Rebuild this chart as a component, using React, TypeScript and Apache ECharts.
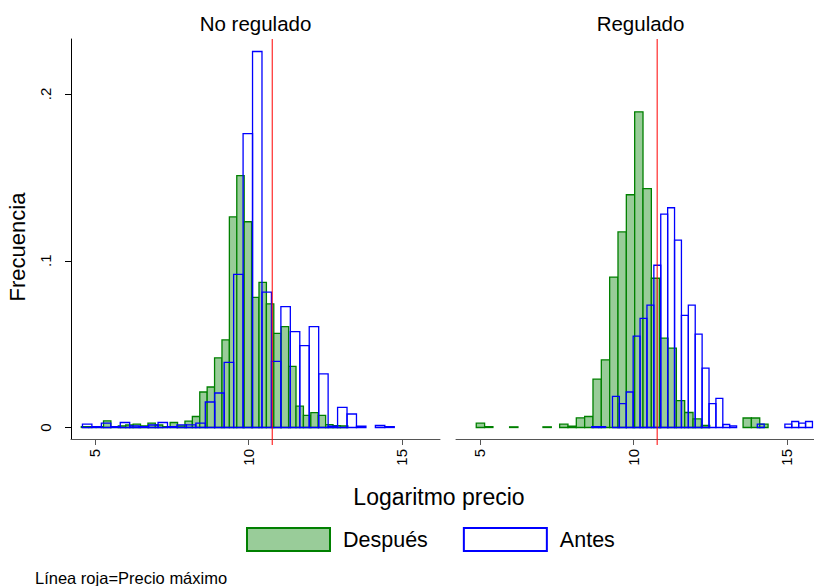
import React, { useEffect, useRef } from "react";
import * as echarts from "echarts";

// ---------- data ----------
const panelTitles = ["No regulado", "Regulado"];
const seriesNames = ["Después", "Antes"];
const xAxisTitle = "Logaritmo precio";
const yAxisTitle = "Frecuencia";
const footNote = "Línea roja=Precio máximo";
const xTicks = [5, 10, 15];
const yTicks = [0, 0.1, 0.2];
const yTickLabels = ["0", ".1", ".2"];
const precioMaximoLog = 10.775;

// No regulado – Después (bin start, bin width, heights)
const despuesNoRegStart = 4.555;
const despuesNoRegWidth = 0.2412;
const despuesNoRegulado = [
  0.0005, 0.0005, 0.0005, 0.004, 0.0005, 0.001, 0.0015, 0.002, 0.001, 0.0026,
  0.0015, 0.0005, 0.003, 0.001, 0.0038, 0.0066, 0.0213, 0.0243, 0.0418, 0.0525,
  0.1263, 0.151, 0.1234, 0.078, 0.087, 0.0742, 0.0565, 0.0605, 0.0366, 0.0128,
  0.0073, 0.0089, 0.0073, 0.0017, 0.0011, 0.001,
];

// No regulado – Antes
const antesNoRegStart = 4.593;
const antesNoRegWidth = 0.3078;
const antesNoRegulado = [
  0.002, 0.0005, 0.0026, 0.0005, 0.003, 0.001, 0.0005, 0.0015, 0.003, 0.0005,
  0.0016, 0.0016, 0.0026, 0.0153, 0.0207, 0.039, 0.0918, 0.1763, 0.2255, 0.0812,
  0.0396, 0.0725, 0.0575, 0.0491, 0.0605, 0.0322, 0.0008, 0.0121, 0.0081, 0.0008,
  0, 0.0012, 0.0005,
];

// Regulado – Después
const despuesRegStart = 4.88;
const despuesRegWidth = 0.2717;
const despuesRegulado = [
  0.0026, 0.0005, 0, 0, 0.0004, 0, 0, 0, 0.0004, 0, 0.002, 0.0008, 0.0058,
  0.0066, 0.029, 0.0406, 0.0902, 0.1173, 0.1396, 0.1893, 0.1433, 0.0895, 0.0536,
  0.0476, 0.0161, 0.009, 0.0052, 0.0012, 0, 0, 0, 0, 0.0057, 0.0057, 0.002,
];

// Regulado – Antes
const antesRegStart = 8.645;
const antesRegWidth = 0.2247;
const antesRegulado = [
  0.0005, 0.0005, 0, 0.0187, 0.0143, 0.0213, 0.0548, 0.0655, 0.0734, 0.0973,
  0.128, 0.1318, 0.1124, 0.0673, 0.0734, 0.056, 0.0356, 0.0143, 0.0175, 0.0018,
  0.001, 0, 0, 0, 0.002, 0, 0, 0, 0.002, 0.0036, 0.0026, 0.0036,
];

// ---------- styling ----------
const FONT = "'Liberation Sans', Arial, sans-serif";
const GREEN_FILL = "#99cc99";
const GREEN_STROKE = "#008000";
const BLUE_STROKE = "#0000ff";
const X_MIN = 4.22;
const X_MAX_LEFT = 16.24;
const X_MAX_RIGHT = 15.886;
const Y_MIN = -0.0069;
const Y_MAX = 0.233;

function toBins(start: number, width: number, heights: number[]) {
  return heights
    .map((h, i) => [start + i * width, start + (i + 1) * width, h])
    .filter((d) => d[2] > 0);
}

const makeRender = (fill: string, stroke: string) => (params: any, api: any) => {
  const x0 = api.value(0);
  const x1 = api.value(1);
  const h = api.value(2);
  const p0 = api.coord([x0, h]);
  const p1 = api.coord([x1, 0]);
  return {
    type: "rect",
    shape: { x: p0[0], y: p0[1], width: p1[0] - p0[0], height: p1[1] - p0[1] },
    style: { fill, stroke, lineWidth: 1.3 },
  };
};

const renderRefLine = (params: any, api: any) => {
  const x = api.value(0);
  const top = api.coord([x, Y_MAX]);
  const bottom = api.coord([x, Y_MIN]);
  return {
    type: "line",
    shape: { x1: top[0], y1: top[1], x2: bottom[0], y2: bottom[1] + 6 },
    style: { stroke: "#ff0000", lineWidth: 1 },
  };
};

export default function App() {
  const ref = useRef<HTMLDivElement>(null);

  useEffect(() => {
    if (!ref.current) return;
    const chart = echarts.init(ref.current, null, { renderer: "svg" });

    const grids = [
      { left: 71, top: 39, width: 369, height: 400 },
      { left: 456, top: 39, width: 358, height: 400 },
    ];
    const xMax = [X_MAX_LEFT, X_MAX_RIGHT];

    const xAxes = grids.map((_, i) => ({
      type: "value",
      gridIndex: i,
      min: X_MIN,
      max: xMax[i],
      axisLine: { show: true, onZero: false, lineStyle: { color: "#555", width: 1 } },
      axisTick: { show: true, length: 6, customValues: xTicks, lineStyle: { color: "#555" } },
      axisLabel: {
        customValues: xTicks,
        rotate: 90,
        margin: 10,
        fontSize: 15,
        color: "#000",
        fontFamily: FONT,
      },
      splitLine: { show: false },
    }));

    const yAxes = [
      {
        type: "value",
        gridIndex: 0,
        min: Y_MIN,
        max: Y_MAX,
        axisLine: { show: true, lineStyle: { color: "#000", width: 1 } },
        axisTick: { show: true, length: 6, customValues: yTicks, lineStyle: { color: "#000" } },
        axisLabel: {
          customValues: yTicks,
          rotate: 90,
          margin: 18,
          fontSize: 15,
          color: "#000",
          fontFamily: FONT,
          formatter: (v: number) => {
            const idx = yTicks.findIndex((t) => Math.abs(t - v) < 1e-9);
            return idx >= 0 ? yTickLabels[idx] : "";
          },
        },
        splitLine: { show: false },
      },
      {
        type: "value",
        gridIndex: 1,
        min: Y_MIN,
        max: Y_MAX,
        show: false,
        splitLine: { show: false },
      },
    ];

    const panels = [
      {
        despues: toBins(despuesNoRegStart, despuesNoRegWidth, despuesNoRegulado),
        antes: toBins(antesNoRegStart, antesNoRegWidth, antesNoRegulado),
      },
      {
        despues: toBins(despuesRegStart, despuesRegWidth, despuesRegulado),
        antes: toBins(antesRegStart, antesRegWidth, antesRegulado),
      },
    ];

    const series: any[] = [];
    panels.forEach((p, i) => {
      series.push({
        type: "custom",
        name: seriesNames[0],
        xAxisIndex: i,
        yAxisIndex: i,
        data: p.despues,
        encode: { x: [0, 1], y: 2 },
        itemStyle: { color: GREEN_FILL, borderColor: GREEN_STROKE, borderWidth: 2 },
        renderItem: makeRender(GREEN_FILL, GREEN_STROKE),
        z: 2,
      });
      series.push({
        type: "custom",
        name: seriesNames[1],
        xAxisIndex: i,
        yAxisIndex: i,
        data: p.antes,
        encode: { x: [0, 1], y: 2 },
        itemStyle: { color: "#ffffff", borderColor: BLUE_STROKE, borderWidth: 2 },
        renderItem: makeRender("none", BLUE_STROKE),
        z: 3,
      });
      series.push({
        type: "custom",
        name: "precio-max-" + i,
        xAxisIndex: i,
        yAxisIndex: i,
        dimensions: ["x"],
        data: [[precioMaximoLog]],
        encode: { x: 0 },
        renderItem: renderRefLine,
        silent: true,
        z: 4,
      });
    });

    const textStyle = (size: number) => ({ fontSize: size, fontFamily: FONT, fill: "#000" });

    chart.setOption({
      animation: false,
      backgroundColor: "#ffffff",
      grid: grids,
      xAxis: xAxes,
      yAxis: yAxes,
      series,
      legend: {
        left: 246,
        top: 527,
        padding: 0,
        itemWidth: 83,
        itemHeight: 23,
        itemGap: 35,
        selectedMode: false,
        textStyle: { fontSize: 21.5, fontFamily: FONT, color: "#000", padding: [0, 0, 0, 8] },
        data: [
          {
            name: seriesNames[0],
            icon: "rect",
            itemStyle: { color: GREEN_FILL, borderColor: GREEN_STROKE, borderWidth: 2 },
          },
          {
            name: seriesNames[1],
            icon: "rect",
            itemStyle: { color: "#ffffff", borderColor: BLUE_STROKE, borderWidth: 2 },
          },
        ],
      },
      graphic: [
        {
          type: "text",
          x: 255.5,
          y: 23,
          style: { ...textStyle(20.5), text: panelTitles[0], align: "center", verticalAlign: "middle" },
        },
        {
          type: "text",
          x: 640.5,
          y: 23,
          style: { ...textStyle(20.5), text: panelTitles[1], align: "center", verticalAlign: "middle" },
        },
        {
          type: "text",
          x: 17,
          y: 247,
          rotation: Math.PI / 2,
          style: { ...textStyle(22), text: yAxisTitle, align: "center", verticalAlign: "middle" },
        },
        {
          type: "text",
          x: 439,
          y: 497,
          style: { ...textStyle(23), text: xAxisTitle, align: "center", verticalAlign: "middle" },
        },
        {
          type: "text",
          x: 35,
          y: 578,
          style: { ...textStyle(16.5), text: footNote, align: "left", verticalAlign: "middle" },
        },
      ],
    });

    return () => chart.dispose();
  }, []);

  return (
    <div
      ref={ref}
      style={{ position: "fixed", left: 0, top: 0, width: 814, height: 586, background: "#fff" }}
    />
  );
}
